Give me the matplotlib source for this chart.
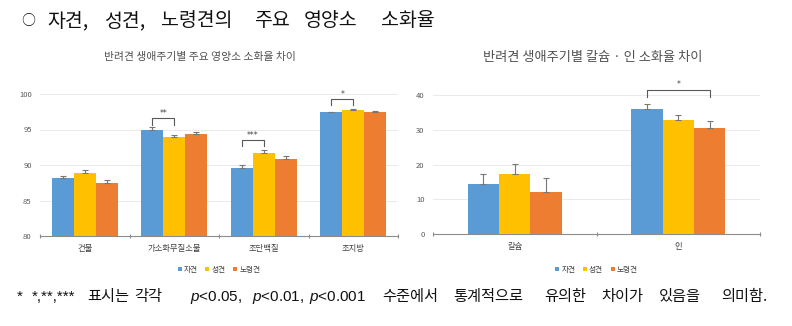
import matplotlib
matplotlib.use("Agg")
import matplotlib.pyplot as plt
import numpy as np

plt.rcParams['font.family'] = ['Noto Sans CJK KR', 'DejaVu Sans']
plt.rcParams['mathtext.fontset'] = 'custom'
plt.rcParams['mathtext.it'] = 'Liberation Sans:italic'
plt.rcParams['mathtext.rm'] = 'Liberation Sans'

# Nutrient digestibility by life stage
groups = ['자견', '성견', '노령견']
colors = ['#5B9BD5', '#FFC000', '#ED7D31']

nutrients = ['건물', '가소화무질소물', '조단백질', '조지방']
nut_means = {
    '자견':   [88.1, 95.0, 89.6, 97.4],
    '성견':   [88.9, 93.9, 91.7, 97.8],
    '노령견': [87.4, 94.3, 90.9, 97.5],
}
nut_err = {
    '자견':   [0.4, 0.4, 0.4, 0.1],
    '성견':   [0.4, 0.3, 0.4, 0.1],
    '노령견': [0.5, 0.4, 0.4, 0.1],
}
# (category index, first group, second group, label)
nut_sig = [(1, 0, 1, '**'), (2, 0, 1, '***'), (3, 0, 1, '*')]

minerals = ['칼슘', '인']
min_means = {
    '자견':   [14.4, 36.0],
    '성견':   [17.2, 32.8],
    '노령견': [12.0, 30.6],
}
min_err = {
    '자견':   [2.9, 1.4],
    '성견':   [2.9, 1.5],
    '노령견': [4.1, 1.9],
}
min_sig = [(1, 0, 2, '*')]

W, H = 792, 326
fig = plt.figure(figsize=(W / 100, H / 100), dpi=100)
fig.patch.set_facecolor('white')


def px_axes(x0, y0, x1, y1):
    return fig.add_axes([x0 / W, 1 - y1 / H, (x1 - x0) / W, (y1 - y0) / H])


def draw_panel(ax, cats, means, errs, sig, ylim, yticks, cluster, bracket, cap_w=2.5):
    n = len(cats)
    x = np.arange(n)
    bw = cluster / len(groups)
    for i, g in enumerate(groups):
        pos = x + (i - 1) * bw
        ax.bar(pos, means[g], width=bw, color=colors[i], zorder=3, label=g)
        ax.errorbar(pos, means[g], yerr=[np.zeros(n), errs[g]], fmt='none',
                    ecolor='#777777', elinewidth=0.8, capsize=cap_w, capthick=0.8, zorder=4)
    ax.set_xlim(-0.5, n - 0.5)
    ax.set_ylim(*ylim)
    ax.set_yticks(yticks)
    ax.set_yticklabels([str(t) for t in yticks])
    ax.yaxis.grid(True, color='#e6e6e6', linewidth=0.6, zorder=0)
    ax.set_axisbelow(True)
    for s in ['top', 'right', 'left']:
        ax.spines[s].set_visible(False)
    ax.spines['bottom'].set_color('#8c8c8c')
    ax.spines['bottom'].set_linewidth(0.8)
    ax.tick_params(axis='y', length=0, labelsize=5.5, labelcolor='#595959', pad=6)
    ax.set_xticks(np.arange(n + 1) - 0.5)
    ax.set_xticklabels([])
    ax.tick_params(axis='x', which='major', length=3, color='#8c8c8c', direction='inout')
    ax.set_xticks(x, minor=True)
    ax.set_xticklabels(cats, minor=True)
    ax.tick_params(axis='x', which='minor', length=0, labelsize=6, labelcolor='#404040', pad=6)
    for (ci, g1, g2, lab) in sig:
        xa = ci + (g1 - 1) * bw
        xb = ci + (g2 - 1) * bw
        top, drop, txt = bracket(ci)
        ax.plot([xa, xa, xb, xb], [top - drop, top, top, top - drop],
                color='#595959', linewidth=0.8, zorder=5, clip_on=False)
        ax.text((xa + xb) / 2, top + txt, lab, ha='center', va='bottom',
                fontsize=5.5, color='#404040', family='DejaVu Sans')
    ax.legend(handles=ax.patches[::n][:3], labels=groups, loc='upper center',
              bbox_to_anchor=(0.5, -0.16), ncol=3, frameon=False, fontsize=5.5,
              handlelength=0.5, handleheight=0.5, handletextpad=0.3, columnspacing=1.0,
              labelcolor='#404040')


# Left panel
axL = px_axes(40, 94, 398, 236)
left_brackets = {1: (96.6, 0.9, 0.05), 2: (93.5, 0.8, 0.05), 3: (99.3, 0.8, 0.05)}
draw_panel(axL, nutrients, nut_means, nut_err, nut_sig, (80, 100),
           [80, 85, 90, 95, 100], 0.74, lambda c: left_brackets[c])

# Right panel
axR = px_axes(433, 78, 760, 234)
draw_panel(axR, minerals, min_means, min_err, min_sig, (0, 45),
           [0, 10, 20, 30, 40], 0.575, lambda c: (41.4, 2.0, 0.3))


def spaced_line(words, xs, y, fams=None, **kw):
    # justified line: each word starts at its own x (pixels)
    for k, (w, xp) in enumerate(zip(words, xs)):
        extra = {}
        if fams is not None and fams[k] is not None:
            extra['family'] = fams[k]
        fig.text(xp / W, 1 - y / H, w, va='center', ha='left', **kw, **extra)


# Heading
fig.text(28 / W, 1 - 21 / H, '○', fontsize=10, va='center', ha='center', color='#111111')
spaced_line(['자견,', '성견,', '노령견의', '주요', '영양소', '소화율'],
            [47, 104, 161, 254, 304, 381], 21, fontsize=14, color='#111111')

fig.text(200 / W, 1 - 57 / H, '반려견 생애주기별 주요 영양소 소화율 차이',
         fontsize=7.8, va='center', ha='center', color='#505050')
fig.text(593 / W, 1 - 57 / H, '반려견 생애주기별 칼슘 · 인 소화율 차이',
         fontsize=9.5, va='center', ha='center', color='#505050', fontweight='medium')

# Footnote
foot_words = ['*', '*,**,***', '표시는', '각각', r'$\mathit{p}$<0.05,', r'$\mathit{p}$<0.01,',
              r'$\mathit{p}$<0.001', '수준에서', '통계적으로', '유의한', '차이가', '있음을', '의미함.']
foot_x = [17, 32, 87, 134, 190, 252, 309, 382, 453, 544, 601, 659, 721]
lat = 'Liberation Sans'
foot_fams = [lat, lat, None, None, lat, lat, lat, None, None, None, None, None, None]
spaced_line(foot_words, foot_x, 297, fams=foot_fams, fontsize=11, color='#111111')

fig.savefig('out.png', dpi=100, facecolor='white')
